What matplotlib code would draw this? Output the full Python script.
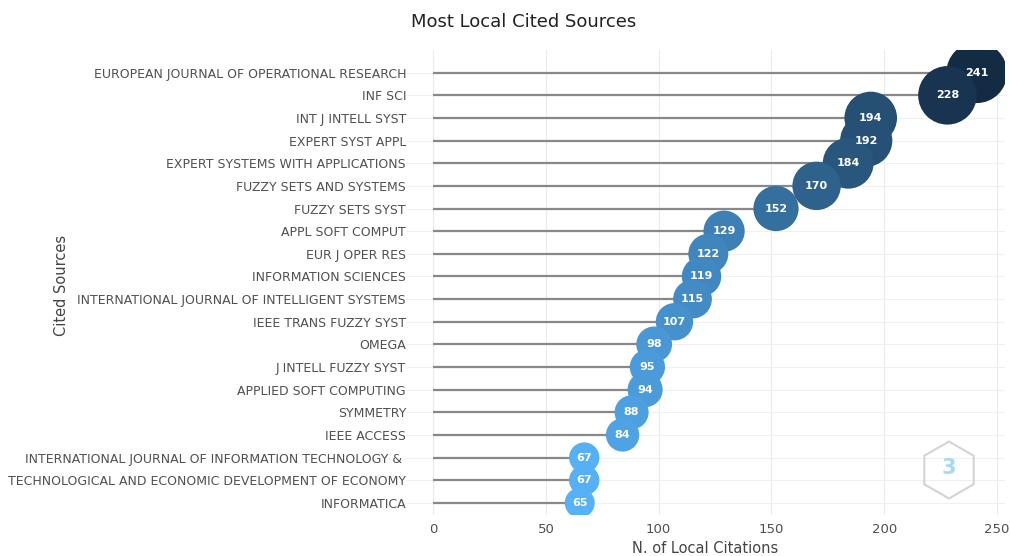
import numpy as np
import matplotlib.pyplot as plt
from matplotlib.colors import LinearSegmentedColormap, Normalize
from matplotlib.patches import Polygon

sources = [
    "EUROPEAN JOURNAL OF OPERATIONAL RESEARCH",
    "INF SCI",
    "INT J INTELL SYST",
    "EXPERT SYST APPL",
    "EXPERT SYSTEMS WITH APPLICATIONS",
    "FUZZY SETS AND SYSTEMS",
    "FUZZY SETS SYST",
    "APPL SOFT COMPUT",
    "EUR J OPER RES",
    "INFORMATION SCIENCES",
    "INTERNATIONAL JOURNAL OF INTELLIGENT SYSTEMS",
    "IEEE TRANS FUZZY SYST",
    "OMEGA",
    "J INTELL FUZZY SYST",
    "APPLIED SOFT COMPUTING",
    "SYMMETRY",
    "IEEE ACCESS",
    "INTERNATIONAL JOURNAL OF INFORMATION TECHNOLOGY & ",
    "TECHNOLOGICAL AND ECONOMIC DEVELOPMENT OF ECONOMY",
    "INFORMATICA",
]
citations = [241, 228, 194, 192, 184, 170, 152, 129, 122, 119,
             115, 107, 98, 95, 94, 88, 84, 67, 67, 65]

xticks = [0, 50, 100, 150, 200, 250]

n = len(sources)
ypos = np.arange(n)[::-1]
vals = np.array(citations)

cmap = LinearSegmentedColormap.from_list("bib", ["#56B1F7", "#132B43"])
norm = Normalize(vmin=vals.min(), vmax=vals.max())

# bubble diameter in px grows with value
diam = 30 + (vals - 65) * 0.175
sizes = (diam * 0.72) ** 2

W, H = 1010, 556
fig = plt.figure(figsize=(W / 100, H / 100), dpi=100)
ax = fig.add_axes([0.402, 0.074, 0.593, 0.836])

for x in xticks:
    ax.axvline(x, color="#ebebeb", lw=0.8, zorder=0)
for y in ypos:
    ax.axhline(y, color="#f0f0f0", lw=0.8, zorder=0)

ax.hlines(ypos, 0, vals, color="#888888", lw=1.6, zorder=1)
ax.scatter(vals, ypos, s=sizes, c=vals, cmap=cmap, norm=norm, zorder=2, linewidths=0)
for v, y in zip(vals, ypos):
    ax.text(v, y, str(v), color="white", fontsize=8, fontweight="bold",
            ha="center", va="center", zorder=3)

ax.set_xlim(-12, 253.5)
ax.set_ylim(-0.53, 20.0)
ax.set_xticks(xticks)
ax.set_yticks(ypos)
ax.set_yticklabels(sources)
ax.tick_params(axis="both", length=0, colors="#505050", labelsize=9.0)
ax.tick_params(axis="x", pad=6)
ax.tick_params(axis="y", pad=0)
for lbl in ax.get_xticklabels():
    lbl.set_fontsize(9.5)
for s in ax.spines.values():
    s.set_visible(False)

fig.text(0.518, 0.96, "Most Local Cited Sources", ha="center", va="center",
         fontsize=13, color="#222222")
fig.text(0.061, 0.487, "Cited Sources", rotation=90, ha="center", va="center",
         fontsize=10.5, color="#444444")
fig.text(0.698, 0.013, "N. of Local Citations", ha="center", va="center",
         fontsize=10.5, color="#444444")

# faint bibliometrix watermark (hexagon drawn in pixel units)
cx, cy, r = 949, 470, 28.5
ang = np.deg2rad(90 + 60 * np.arange(6))
verts = np.column_stack([(cx + r * np.cos(ang)) / W, 1 - (cy - r * np.sin(ang)) / H])
fig.patches.append(Polygon(verts, closed=True, transform=fig.transFigure,
                           facecolor="none", edgecolor="#d4d4d4", lw=1.5))
fig.text(cx / W, 1 - (cy - 2) / H, "3", color="#a8d8f7", fontsize=15,
         fontweight="bold", ha="center", va="center")

fig.savefig("out.png", dpi=100)
